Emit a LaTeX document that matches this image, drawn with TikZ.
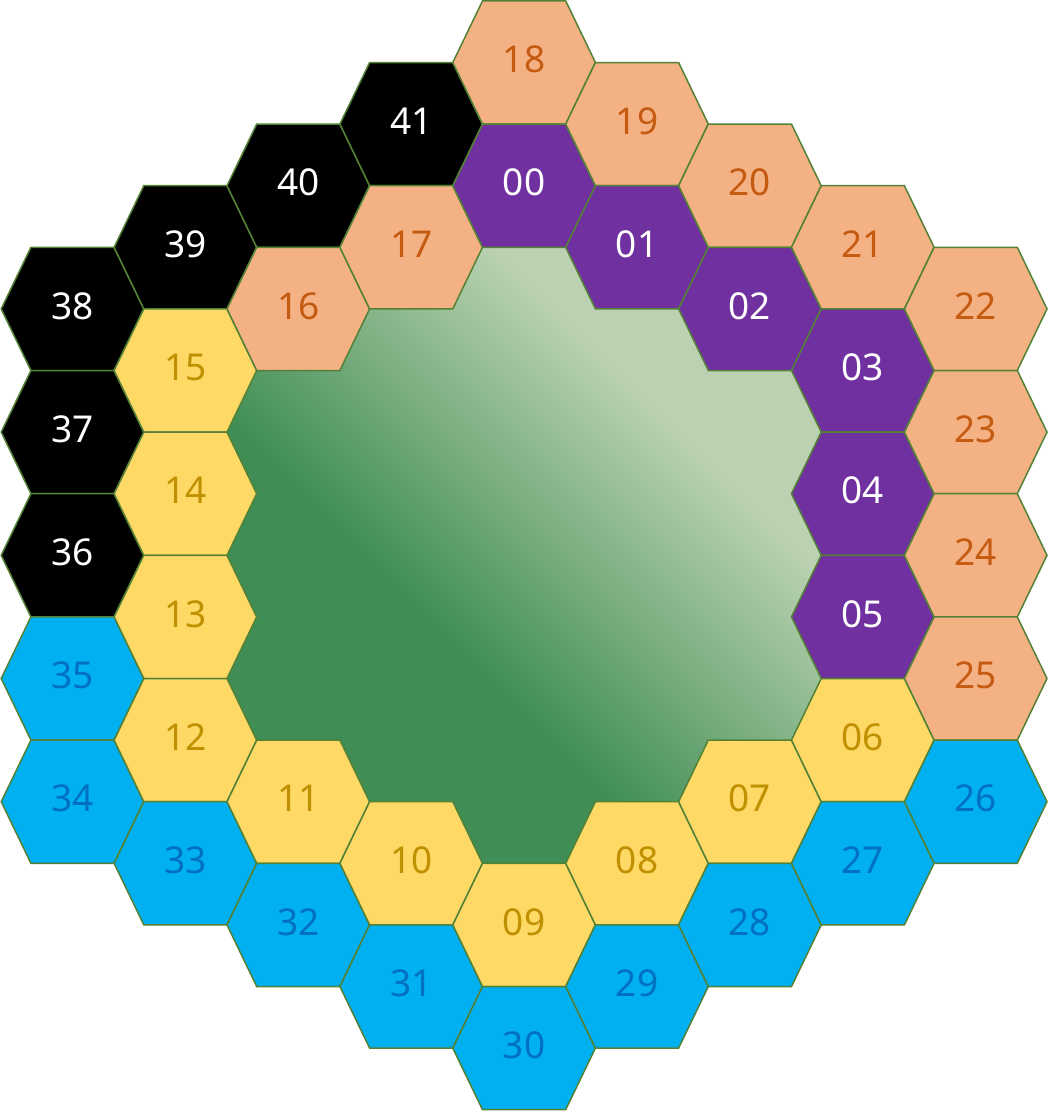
\documentclass[tikz,border=0pt]{standalone}
\usepackage{fontspec}
\setmainfont{Noto Sans}
\definecolor{peach}{HTML}{F4B183}
\definecolor{peachtxt}{HTML}{C55A11}
\definecolor{purp}{HTML}{7030A0}
\definecolor{yell}{HTML}{FFD966}
\definecolor{yelltxt}{HTML}{BF9000}
\definecolor{sky}{HTML}{00B0F0}
\definecolor{skytxt}{HTML}{0070C0}
\definecolor{hexline}{HTML}{538135}
\definecolor{gdark}{HTML}{408E55}
\definecolor{glight}{HTML}{BBD2B2}
\pgfdeclarehorizontalshading{greensh}{100bp}{color(0bp)=(gdark); color(41bp)=(gdark); color(66bp)=(glight); color(100bp)=(glight)}
\begin{document}
\begin{tikzpicture}[x=1pt,y=-1pt,
  hexcell/.style={draw=hexline, line width=1.5pt, line join=miter},
  cell/.style 2 args={fill=#1, text=#2},
  lbl/.style={font=\fontsize{37}{40}\selectfont, inner sep=0pt, yshift=3pt}]
\useasboundingbox (0,0) rectangle (1050,1111);
% central green field
\begin{scope}
  \clip \foreach \c/\r in {2/6,2/8,2/10,3/5,3/7,3/9,3/11,4/4,4/6,4/8,4/10,4/12,5/5,5/7,5/9,5/11,6/6,6/8,6/10}
    { ({72.5+112.9*\c-71.3},{62.5+61.6*\r}) -- ++(29.7,-61.6) -- ++(83.2,0) -- ++(29.7,61.6) -- ++(-29.7,61.6) -- ++(-83.2,0) -- cycle };
  \shade[shading=greensh, shading angle=45] (208,242) rectangle (838,872);
\end{scope}
% ring of cells
\foreach \c/\r/\fc/\tc/\t in {
  0/4/black/white/38, 0/6/black/white/37, 0/8/black/white/36, 0/10/sky/skytxt/35, 0/12/sky/skytxt/34,
  1/3/black/white/39, 1/5/yell/yelltxt/15, 1/7/yell/yelltxt/14, 1/9/yell/yelltxt/13, 1/11/yell/yelltxt/12, 1/13/sky/skytxt/33,
  2/2/black/white/40, 2/4/peach/peachtxt/16, 2/12/yell/yelltxt/11, 2/14/sky/skytxt/32,
  3/1/black/white/41, 3/3/peach/peachtxt/17, 3/13/yell/yelltxt/10, 3/15/sky/skytxt/31,
  4/0/peach/peachtxt/18, 4/2/purp/white/00, 4/14/yell/yelltxt/09, 4/16/sky/skytxt/30,
  5/1/peach/peachtxt/19, 5/3/purp/white/01, 5/13/yell/yelltxt/08, 5/15/sky/skytxt/29,
  6/2/peach/peachtxt/20, 6/4/purp/white/02, 6/12/yell/yelltxt/07, 6/14/sky/skytxt/28,
  7/3/peach/peachtxt/21, 7/5/purp/white/03, 7/7/purp/white/04, 7/9/purp/white/05, 7/11/yell/yelltxt/06, 7/13/sky/skytxt/27,
  8/4/peach/peachtxt/22, 8/6/peach/peachtxt/23, 8/8/peach/peachtxt/24, 8/10/peach/peachtxt/25, 8/12/sky/skytxt/26}
{
  \pgfmathsetmacro\X{72.5+112.9*\c}
  \pgfmathsetmacro\Y{62.5+61.6*\r}
  \path[hexcell, cell={\fc}{\tc}] (\X-71.3,\Y) -- ++(29.7,-61.6) -- ++(83.2,0) -- ++(29.7,61.6) -- ++(-29.7,61.6) -- ++(-83.2,0) -- cycle;
  \node[lbl, text=\tc] (h\t) at (\X,\Y) {\t};
}
\end{tikzpicture}
\end{document}
